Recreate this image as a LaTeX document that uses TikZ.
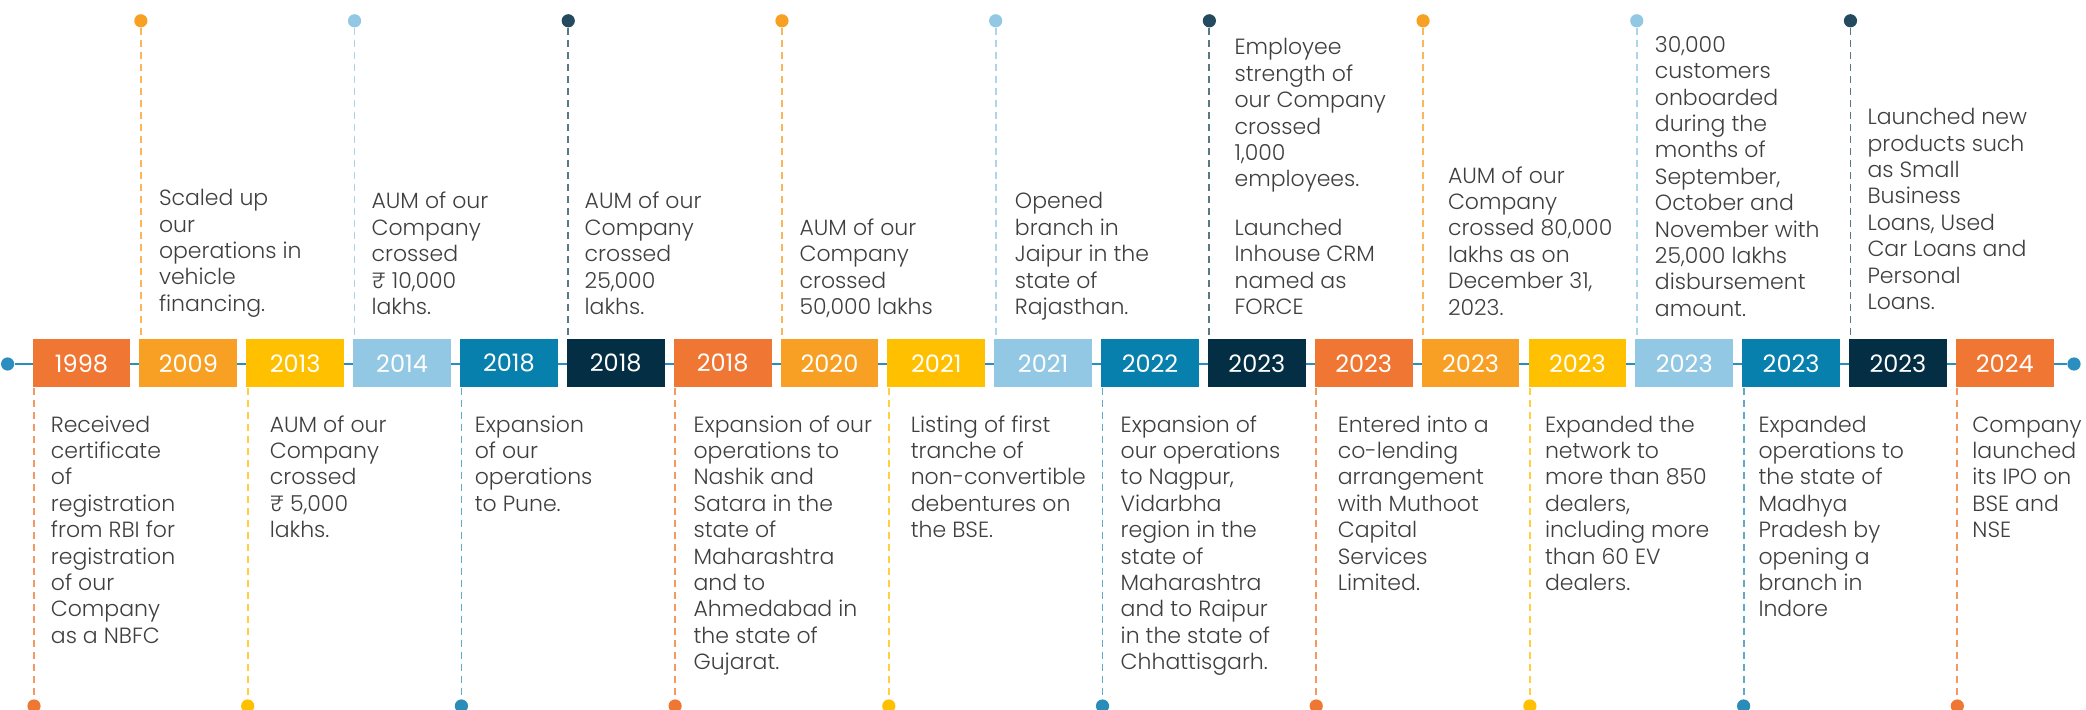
\documentclass[tikz,border=0pt]{standalone}
\usepackage{fontspec}
\setmainfont{Poppins}
\newfontfamily\descfont{Poppins Light}
\definecolor{cOr}{HTML}{F07733}
\definecolor{cAm}{HTML}{F8A023}
\definecolor{cYe}{HTML}{FFC000}
\definecolor{cLb}{HTML}{92C8E4}
\definecolor{cTe}{HTML}{0880AE}
\definecolor{cNa}{HTML}{032E44}
\definecolor{cNaL}{HTML}{234A5F}
\definecolor{cTeL}{HTML}{2A8DB8}
\definecolor{txt}{HTML}{3F3F3F}
\definecolor{tline}{HTML}{2A8FBF}
\tikzset{
  yb/.style={fill=#1, anchor=north west, minimum width=48.9pt, minimum height=24pt,
    inner sep=0pt, text=white, font=\fontsize{12}{14}\selectfont},
  dot/.style={circle, fill=#1, draw=none, minimum size=6.6pt, inner sep=0pt},
  dl/.style={draw=#1, draw opacity=0.75, line width=0.9pt, dash pattern=on 3.5pt off 2.5pt},
  desc/.style={font=\descfont\fontsize{11}{13.2}\selectfont, text=txt, align=left, inner sep=0pt},
  topdesc/.style={desc, anchor=south west},
  botdesc/.style={desc, anchor=north west},
}
\begin{document}
\begin{tikzpicture}[x=0.5pt,y=-0.5pt]
\fill[white] (0,0) rectangle (2086,710);
\useasboundingbox (0,0) rectangle (2086,710);
% timeline
\node[dot=tline] (L) at (7.6,364) {};
\node[dot=tline] (R) at (2074,364) {};
\draw[tline, line width=1pt] (L) -- (R);
% year boxes
\foreach \i/\c/\y in {0/cOr/1998,1/cAm/2009,2/cYe/2013,3/cLb/2014,4/cTe/2018,5/cNa/2018,
  6/cOr/2018,7/cAm/2020,8/cYe/2021,9/cLb/2021,10/cTe/2022,11/cNa/2023,12/cOr/2023,
  13/cAm/2023,14/cYe/2023,15/cLb/2023,16/cTe/2023,17/cNa/2023,18/cOr/2024}
  \node[yb=\c] (b\i) at ({32.2+106.85*\i},339) {\y};
% top connectors
\foreach \i/\c in {1/cAm,3/cLb,5/cNaL,7/cAm,9/cLb,11/cNaL,13/cAm,15/cLb,17/cNaL}{
  \node[dot=\c] (t\i) at ({34+106.85*\i},20.8) {};
  \draw[dl=\c] (t\i) -- (t\i |- b\i.north);
}
% bottom connectors
\foreach \i/\c in {0/cOr,2/cYe,4/cTeL,6/cOr,8/cYe,10/cTeL,12/cOr,14/cYe,16/cTeL,18/cOr}{
  \node[dot=\c] (u\i) at ({34+106.85*\i},706) {};
  \draw[dl=\c] (b\i.south -| u\i) -- (u\i);
}
% bottom texts
\node[botdesc] (x0) at (50.5,413.2) {\strut Received\\certificate\\of\\registration\\from RBI for\\registration\\of our\\Company\\as a NBFC\strut};
\node[botdesc] (x2) at (269.4,413.2) {\strut AUM of our\\Company\\crossed\\₹ 5,000\\lakhs.\strut};
\node[botdesc] (x4) at (474.4,413.2) {\strut Expansion\\of our\\operations\\to Pune.\strut};
\node[botdesc] (x6) at (693.2,413.2) {\strut Expansion of our\\operations to\\Nashik and\\Satara in the\\state of\\Maharashtra\\and to\\Ahmedabad in\\the state of\\Gujarat.\strut};
\node[botdesc] (x8) at (910.4,413.2) {\strut Listing of first\\tranche of\\non-convertible\\debentures on\\the BSE.\strut};
\node[botdesc] (x10) at (1120.3,413.2) {\strut Expansion of\\our operations\\to Nagpur,\\Vidarbha\\region in the\\state of\\Maharashtra\\and to Raipur\\in the state of\\Chhattisgarh.\strut};
\node[botdesc] (x12) at (1337.4,413.2) {\strut Entered into a\\co-lending\\arrangement\\with Muthoot\\Capital\\Services\\Limited.\strut};
\node[botdesc] (x14) at (1544.6,413.2) {\strut Expanded the\\network to\\more than 850\\dealers,\\including more\\than 60 EV\\dealers.\strut};
\node[botdesc] (x16) at (1758.1,413.2) {\strut Expanded\\operations to\\the state of\\Madhya\\Pradesh by\\opening a\\branch in\\Indore\strut};
\node[botdesc] (x18) at (1972,413.2) {\strut Company\\launched\\its IPO on\\BSE and\\NSE\strut};
% top texts
\node[topdesc] (x1) at (158.6,319.6) {\strut Scaled up\\our\\operations in\\vehicle\\financing.\strut};
\node[topdesc] (x3) at (371.2,322.9) {\strut AUM of our\\Company\\crossed\\₹ 10,000\\lakhs.\strut};
\node[topdesc] (x5) at (584.3,322.9) {\strut AUM of our\\Company\\crossed\\25,000\\lakhs.\strut};
\node[topdesc] (x7) at (799.2,322.9) {\strut AUM of our\\Company\\crossed\\50,000 lakhs\strut};
\node[topdesc] (x9) at (1014.5,322.9) {\strut Opened\\branch in\\Jaipur in the\\state of\\Rajasthan.\strut};
\node[topdesc] (x11) at (1234.2,322.9) {\strut Employee\\strength of\\our Company\\crossed\\1,000\\employees.\\[11pt]Launched\\Inhouse CRM\\named as\\FORCE\strut};
\node[topdesc] (x13) at (1447.6,323.5) {\strut AUM of our\\Company\\crossed 80,000\\lakhs as on\\December 31,\\2023.\strut};
\node[topdesc] (x15) at (1654.5,324.6) {\strut 30,000\\customers\\onboarded\\during the\\months of\\September,\\October and\\November with\\25,000 lakhs\\disbursement\\amount.\strut};
\node[topdesc] (x17) at (1867.1,317.9) {\strut Launched new\\products such\\as Small\\Business\\Loans, Used\\Car Loans and\\Personal\\Loans.\strut};
\end{tikzpicture}
\end{document}
